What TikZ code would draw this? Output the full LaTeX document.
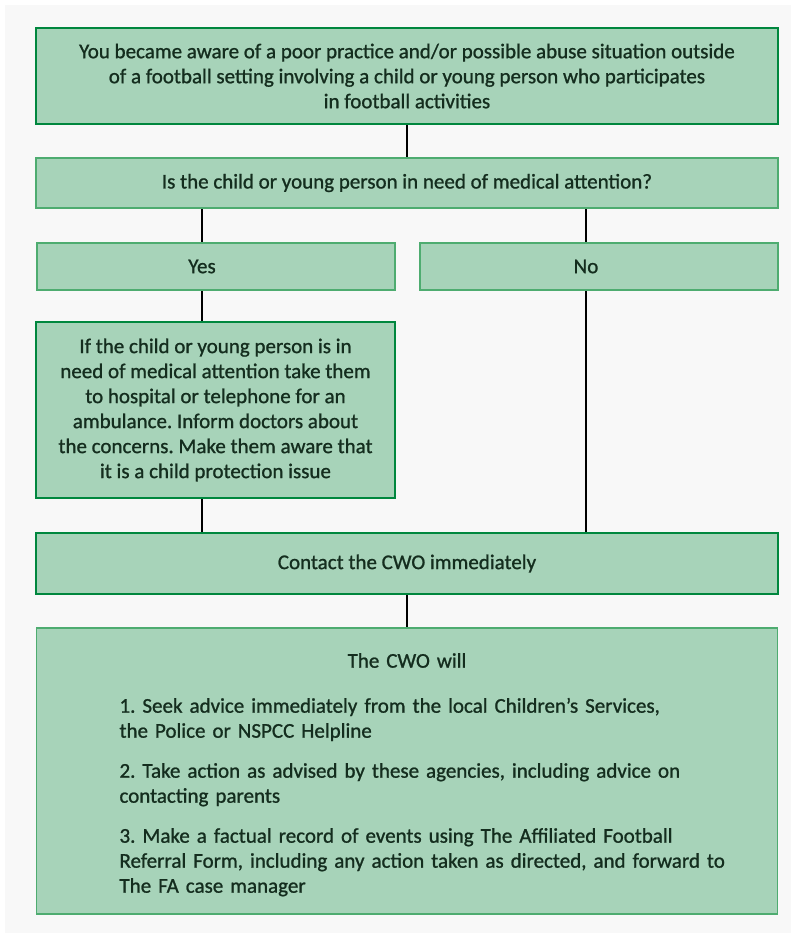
\documentclass[tikz,border=0pt]{standalone}
\usepackage{fontspec}
\setmainfont{Carlito}[FakeBold=1]
\usetikzlibrary{positioning}
\definecolor{fa_green}{RGB}{0, 135, 62}
\definecolor{fa_lightgreen}{RGB}{78, 172, 112}
\definecolor{fa_fill}{RGB}{167, 211, 185}
\definecolor{fa_text}{RGB}{20, 45, 30}
\definecolor{fa_bg}{RGB}{248, 248, 248}
\tikzset {
  box/.style = {draw=fa_green, line width=2.2pt, fill=fa_fill, rectangle, text=fa_text, align=center, inner sep=0pt, outer sep=0pt, font=\fontsize{21}{25}\selectfont\frenchspacing},
  thinbox/.style = {box, draw=fa_lightgreen, line width=1.3pt},
  line/.style = {line width=1.8pt, color=black},
}
\pgfdeclarelayer{background}
\pgfsetlayers{background,main}

\begin{document}
\begin{tikzpicture}[x=1pt, y=-1pt, node distance=34pt]
    \useasboundingbox (0,0) rectangle (796,938);

    \node[box, minimum width=742pt, minimum height=96pt] (aware) at (407,76) {You became aware of a poor practice and/or possible abuse situation outside\\of a football setting involving a child or young person who participates\\in football activities};
    \node[thinbox, minimum width=742pt, minimum height=50pt, below=of aware] (medical) {Is the child or young person in need of medical attention?};
    \node[thinbox, minimum width=358pt, minimum height=47pt, below right=35pt and 1pt of medical.south west] (yes) {\hspace*{-28pt}Yes};
    \node[thinbox, minimum width=358pt, minimum height=47pt, below left=35pt and 0pt of medical.south east] (no) {\hspace*{-26pt}No};
    \node[box, minimum width=359pt, minimum height=176pt, below left=32pt and 0pt of yes.south east] (hospital) {If the child or young person is in\\need of medical attention take them\\to hospital or telephone for an\\ambulance. Inform doctors about\\the concerns. Make them aware that\\it is a child protection issue};
    \node[box, minimum width=742pt, minimum height=61pt] (contact) at (407,563.5) {Contact the CWO immediately};
    \node[thinbox, minimum width=741pt, minimum height=286pt, text width=741pt, align=left, below=of contact] (cwo) {%
      {\centering\rule{0pt}{22pt}The CWO will\par}\vspace{20pt}
      \leftskip=83pt
      1. Seek advice immediately from the local Children’s Services,\\the Police or NSPCC Helpline\par\vspace{15pt}
      2. Take action as advised by these agencies, including advice on\\contacting parents\par\vspace{15pt}
      3. Make a factual record of events using The Affiliated Football\\Referral Form, including any action taken as directed, and forward to\\The FA case manager\par};

    \coordinate (yesline) at (202,0);
    \coordinate (noline) at (586,0);

    \begin{pgfonlayer}{background}
      \fill[fa_bg] (5,5) rectangle (791,933);
      \draw[line] (aware.south) -- (medical.north);
      \draw[line] (medical.south -| yesline) -- (yes.north -| yesline);
      \draw[line] (medical.south -| noline) -- (no.north -| noline);
      \draw[line] (yes.south -| yesline) -- (hospital.north -| yesline);
      \draw[line] (hospital.south -| yesline) -- (contact.north -| yesline);
      \draw[line] (no.south -| noline) -- (contact.north -| noline);
      \draw[line] (contact.south) -- (cwo.north);
    \end{pgfonlayer}

\end{tikzpicture}
\end{document}
